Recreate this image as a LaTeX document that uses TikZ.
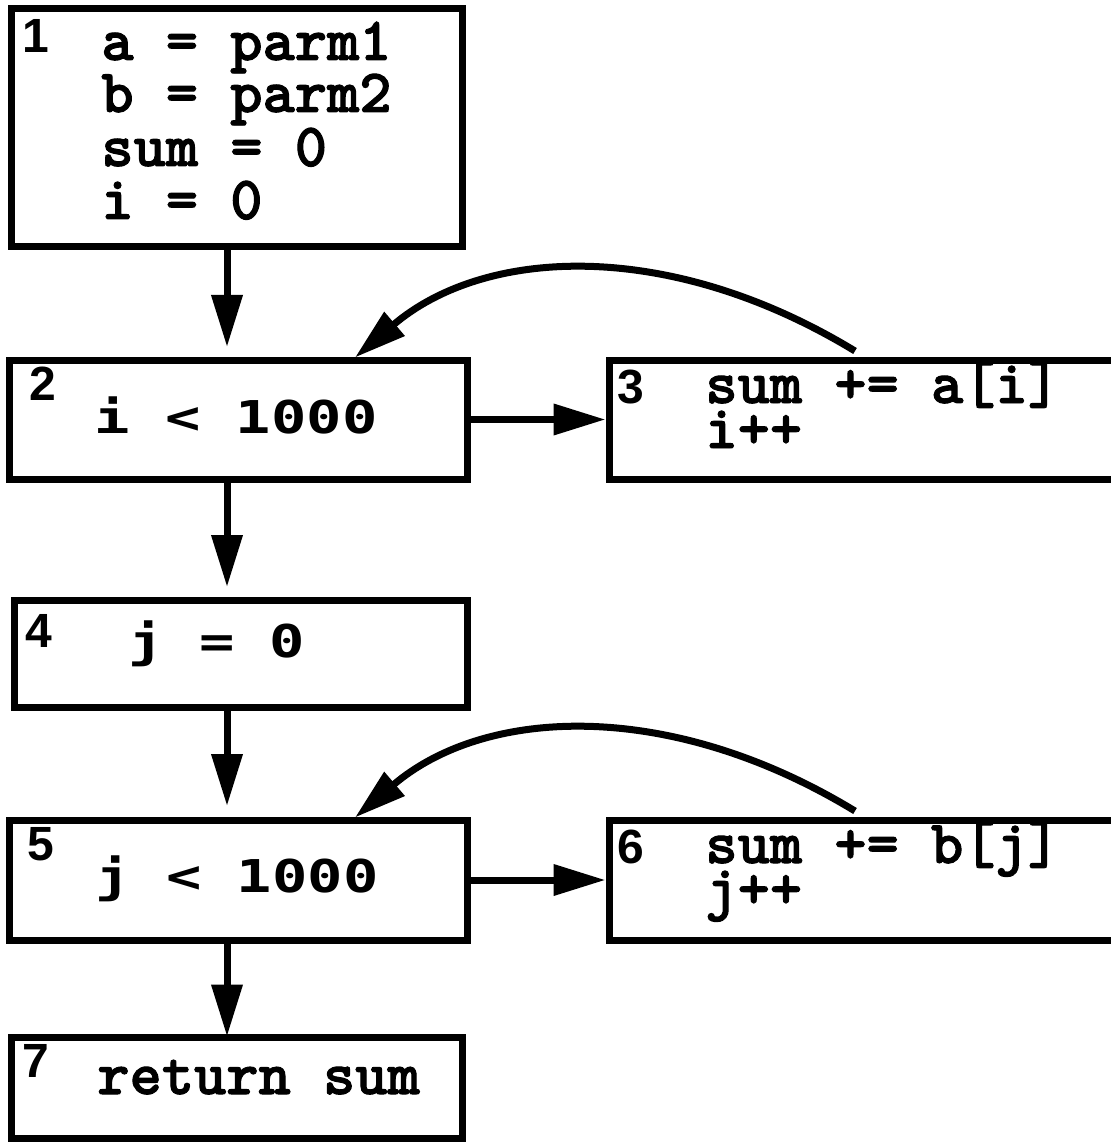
\documentclass[tikz,border=0pt]{standalone}
\usepackage{fontspec}
\usetikzlibrary{arrows.meta,calc}
\newfontfamily\codefont[FakeBold=1.6]{lmmonolt10-bold.otf}
\newfontfamily\smonofont[FakeStretch=1.3]{DejaVu Sans Mono}
\newfontfamily\labfont{Liberation Sans}
\begin{document}
\begin{tikzpicture}[x=0.5pt,y=-0.5pt,
  box/.style={draw,rectangle,line width=3.5pt,inner sep=0pt,outer sep=1.75pt},
  code/.style={anchor=base west,inner sep=0pt,font=\codefont\fontsize{30.7pt}{30.7pt}\selectfont},
  scode/.style={anchor=base west,inner sep=0pt,font=\smonofont\bfseries\fontsize{22.6pt}{22.6pt}\selectfont},
  lab/.style={anchor=base west,inner sep=0pt,font=\labfont\bfseries\fontsize{24pt}{24pt}\selectfont},
  arr/.style={line width=3.5pt,-{Triangle[length=26pt,width=15pt]}}]
\useasboundingbox (0,0) rectangle (1110,1144);
% boxes
\node[box,minimum width=225.25pt,minimum height=118.75pt] (b1) at (236.75,127.75) {};
\node[box,minimum width=229pt,minimum height=59.5pt] (b2) at (238,419.5) {};
\node[box,minimum width=260.5pt,minimum height=59.5pt] (b3) at (869.5,419.5) {};
\node[box,minimum width=226.5pt,minimum height=53.5pt] (b4) at (240.5,653.5) {};
\node[box,minimum width=229pt,minimum height=60pt] (b5) at (238,880) {};
\node[box,minimum width=260.5pt,minimum height=60pt] (b6) at (869.5,880) {};
\node[box,minimum width=225.25pt,minimum height=50.5pt] (b7) at (236.75,1087.5) {};
% labels
\node[lab] (l1) at (22,53) {1};
\node[lab] (l2) at (29,400) {2};
\node[lab] (l3) at (617,403) {3};
\node[lab] (l4) at (25,647) {4};
\node[lab] (l5) at (27,860) {5};
\node[lab] (l6) at (617,863) {6};
\node[lab] (l7) at (22,1077) {7};
% code
\node[code] (t1a) at (101,60) {a = parm1};
\node[code] (t1b) at (101,112) {b = parm2};
\node[code] (t1c) at (101,166) {sum = 0};
\node[code] (t1d) at (101,219) {i = 0};
\node[scode] (t2) at (94,433) {i < 1000};
\node[code] (t3a) at (705,403) {sum += a[i]};
\node[code] (t3b) at (705,448) {i++};
\node[scode] (t4) at (128,657) {j = 0};
\node[scode] (t5) at (95,892) {j < 1000};
\node[code] (t6a) at (705,863) {sum += b[j]};
\node[code] (t6b) at (705,908) {j++};
\node[code] (t7) at (97,1094) {return sum};
% straight connectors
\draw[arr] ($(b1.south)+(-9.75,0)$) -- ($(b2.north)+(-11,-9.5)$);
\draw[arr] ($(b2.south)+(-11,0)$) -- ($(b4.north)+(-13.5,-9.5)$);
\draw[arr] ($(b4.south)+(-13.5,0)$) -- ($(b5.north)+(-11,-10.5)$);
\draw[arr] ($(b5.south)+(-11,0)$) -- ($(b7.north)+(-9.75,3)$);
\draw[arr] (b2.east) -- (b3.west);
\draw[arr] (b5.east) -- (b6.west);
% back edges
\coordinate (s3) at ($(b3.north west)+(249.5,-5.5)$);
\coordinate (s6) at ($(b6.north west)+(249.5,-5.5)$);
\draw[arr] (s3) .. controls (671,239) and (486,246) .. ($(b2.north west)+(349.5,1)$);
\draw[arr] (s6) .. controls (671,699) and (486,706) .. ($(b5.north west)+(349.5,1)$);
\end{tikzpicture}
\end{document}
